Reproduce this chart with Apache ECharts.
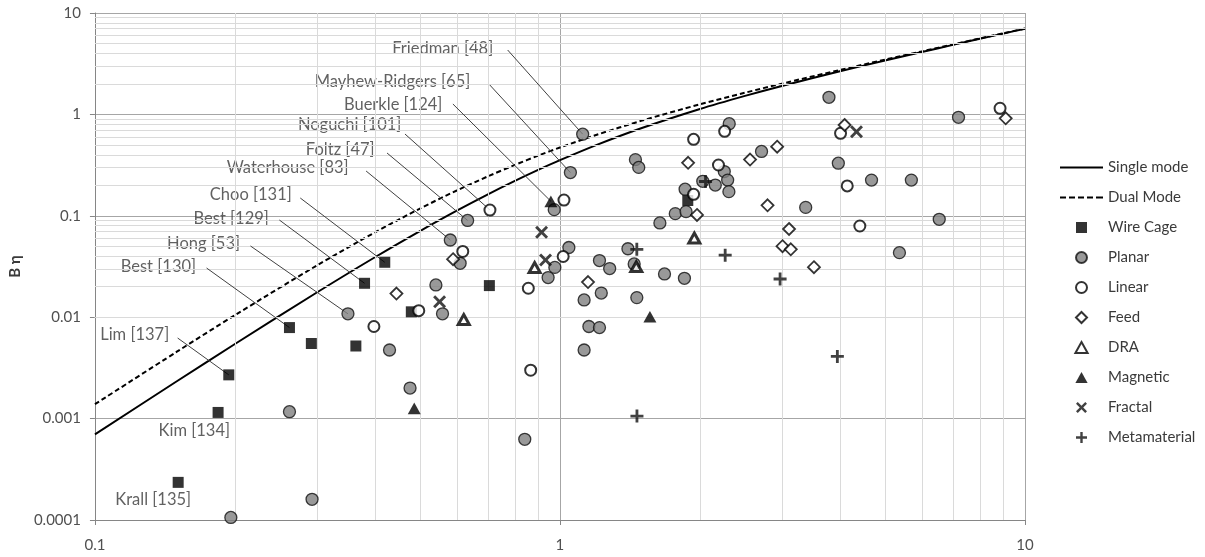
<!DOCTYPE html>
<html><head><meta charset="utf-8">
<script src="https://cdn.jsdelivr.net/npm/echarts@6/dist/echarts.min.js"></script>
<style>html,body{margin:0;padding:0;background:#fff}#c{width:1205px;height:557px}</style>
</head><body><div id="c"></div>
<script>
// ---------- data ----------
const xTickLabels = ['0.1', '1', '10'];
const yTickLabels = ['0.0001', '0.001', '0.01', '0.1', '1', '10'];
const xMinorTicks = [0.2,0.3,0.4,0.5,0.6,0.7,0.8,0.9, 2,3,4,5,6,7,8,9];
const yMinorTicks = [0.0002,0.0003,0.0004,0.0005,0.0006,0.0007,0.0008,0.0009,
  0.002,0.003,0.004,0.005,0.006,0.007,0.008,0.009,
  0.02,0.03,0.04,0.05,0.06,0.07,0.08,0.09,
  0.2,0.3,0.4,0.5,0.6,0.7,0.8,0.9,
  2,3,4,5,6,7,8,9];

const curveX     = [0.1, 0.15, 0.2, 0.3, 0.4, 0.5, 0.6, 0.7, 0.8, 0.9, 1, 1.2, 1.5, 2, 2.5, 3, 4, 5, 6, 7, 8, 9, 10];
const singleMode = [0.00070, 0.002334, 0.005439, 0.017516, 0.039013, 0.07071, 0.11230, 0.16278, 0.22075, 0.28479, 0.35355, 0.50077, 0.73430, 1.13137, 1.52392, 1.90918, 2.66206, 3.39950, 4.12792, 4.85072, 5.56972, 6.28634, 7.00099];
const dualMode   = [0.0013865, 0.0045674, 0.010476, 0.032359, 0.068568, 0.11785, 0.17760, 0.24499, 0.31758, 0.39350, 0.47140, 0.62983, 0.86781, 1.25708, 1.63681, 2.00966, 2.74273, 3.46617, 4.18447, 4.89970, 5.61290, 6.32491, 7.03582];

const wireCage = [[0.194,0.0027],[0.184,0.00115],[0.151,0.000235],[0.262,0.0079],[0.292,0.0055],[0.364,0.0052],[0.380,0.0216],[0.420,0.0348],[0.705,0.0205],[0.479,0.0113],[1.883,0.1416]];
const planar = [[0.196,0.000106],[0.293,0.00016],[0.262,0.00117],[0.350,0.0108],[0.430,0.00475],[0.476,0.0020],[0.541,0.0208],[0.559,0.0108],[0.581,0.0577],[0.610,0.034],[0.633,0.090],[0.840,0.000625],[0.943,0.0246],[0.975,0.031],[0.972,0.115],[1.045,0.0487],[1.053,0.267],[1.119,0.638],[1.127,0.0148],[1.127,0.00475],[1.154,0.0081],[1.216,0.0079],[1.227,0.0173],[1.216,0.0362],[1.279,0.0302],[1.400,0.0473],[1.444,0.0335],[1.463,0.0156],[1.453,0.358],[1.477,0.300],[1.640,0.085],[1.678,0.0267],[1.852,0.0242],[1.770,0.105],[1.867,0.110],[1.858,0.183],[2.028,0.219],[2.158,0.201],[2.256,0.273],[2.294,0.225],[2.308,0.173],[2.312,0.810],[2.713,0.431],[3.376,0.121],[3.788,1.474],[3.968,0.330],[4.677,0.225],[5.697,0.225],[5.370,0.0433],[6.540,0.0924],[7.195,0.936]];
const linear = [[0.398,0.0081],[0.497,0.0116],[0.618,0.0445],[0.707,0.114],[0.855,0.0193],[0.865,0.0030],[1.020,0.143],[1.016,0.0397],[1.938,0.568],[1.938,0.163],[2.192,0.317],[2.260,0.681],[4.012,0.651],[4.147,0.197],[4.414,0.0793],[8.838,1.149]];
const feed = [[0.445,0.0171],[0.589,0.0373],[1.149,0.0222],[1.886,0.333],[1.971,0.102],[2.563,0.359],[2.931,0.480],[2.795,0.127],[3.109,0.0741],[3.010,0.0502],[3.136,0.0467],[3.517,0.0311],[4.093,0.786],[9.089,0.915]];
const dra = [[0.621,0.0095],[0.882,0.0309],[1.459,0.0315],[1.945,0.0604]];
const magnetic = [[0.486,0.00126],[0.956,0.139],[1.561,0.0101]];
const fractal = [[0.551,0.0142],[0.913,0.0689],[0.931,0.0367],[4.342,0.675]];
const metamaterial = [[1.463,0.0467],[1.464,0.00106],[2.056,0.218],[2.266,0.0409],[2.974,0.0238],[3.949,0.0041]];

const annotationNames = ['Friedman [48]','Mayhew-Ridgers [65]','Buerkle [124]','Noguchi [101]','Foltz [47]','Waterhouse [83]','Choo [131]','Best [129]','Hong [53]','Best [130]','Lim [137]','Kim [134]','Krall [135]'];
const annotationTargets = [[1.119,0.638],[1.053,0.267],[0.956,0.139],[0.707,0.114],[0.633,0.090],[0.581,0.0577],[0.420,0.0348],[0.380,0.0216],[0.350,0.0108],[0.262,0.0079],[0.194,0.0027],null,null];

// ---------- layout (annotation text anchors / leader starts, in data units) ----------
const labelAnchors = [[0.7202,4.416],[0.643,2.086],[0.560,1.238],[0.4572,0.786],[0.4003,0.4455],[0.352,0.2961],[0.2657,0.1604],[0.2372,0.0930],[0.2056,0.0527],[0.1654,0.03127],[0.1448,0.006676],[0.1957,0.000754],[0.1614,0.0001575]];
const leaderStarts = [[0.7718,4.317],[0.7065,1.950],[0.5885,1.266],[0.4642,0.6406],[0.4247,0.4163],[0.3829,0.2765],[0.2764,0.1498],[0.2492,0.0909],[0.2160,0.0504],[0.1738,0.03056],[0.1506,0.006235],null,null];

const FONT = 'Lato, "Liberation Sans", sans-serif';
const TXT = '#3a3a3a';
const PLUS = 'path://M4.7,0H7.3V4.7H12V7.3H7.3V12H4.7V7.3H0V4.7H4.7Z';
const CROSS = 'path://M0,1.9L1.9,0L6,4.1L10.1,0L12,1.9L7.9,6L12,10.1L10.1,12L6,7.9L1.9,12L0,10.1L4.1,6Z';
const SQUARE = 'path://M0,0H10V10H0Z';
const DIAMOND = 'path://M5,0L10,5L5,10L0,5Z';
const TRIANGLE = 'path://M5,0L10,9H0Z';
const SOLID_ICON = 'path://M0,0H43V2.2H0Z';
const DASH_ICON = 'path://M0,0H6V2.2H0Z M9,0H15V2.2H9Z M18,0H24V2.2H18Z M27,0H33V2.2H27Z M36,0H43V2.2H36Z';

const chart = echarts.init(document.getElementById('c'), null, {renderer: 'canvas'});

const leaderData = [];
annotationNames.forEach((n, i) => {
  if (leaderStarts[i] && annotationTargets[i]) {
    leaderData.push([{coord: leaderStarts[i]}, {coord: annotationTargets[i]}]);
  }
});

function scatter(name, data, symbol, size, itemStyle, z) {
  return {type: 'scatter', name, data, symbol, symbolSize: size, symbolKeepAspect: true, itemStyle, z: z || 5, animation: false};
}

chart.setOption({
  animation: false,
  textStyle: {fontFamily: FONT},
  grid: {left: 92, right: 180, top: 13, bottom: 37, containLabel: false},
  xAxis: {
    type: 'log', logBase: 10, min: 0.1, max: 10,
    axisLine: {show: true, onZero: false, lineStyle: {color: '#868686', width: 1}},
    axisTick: {show: true, length: 5, lineStyle: {color: '#868686'}},
    axisLabel: {color: '#505050', fontSize: 15, margin: 18, fontFamily: FONT,
      formatter: v => xTickLabels[Math.round(Math.log10(v)) + 1]},
    splitLine: {show: true, lineStyle: {color: '#a6a6a6', width: 1}}
  },
  yAxis: {
    type: 'log', logBase: 10, min: 0.0001, max: 10,
    name: 'B η', nameLocation: 'middle', nameGap: 68,
    nameTextStyle: {color: TXT, fontSize: 15, fontWeight: 'bold', fontFamily: FONT},
    axisLine: {show: true, onZero: false, lineStyle: {color: '#868686', width: 1}},
    axisTick: {show: true, length: 5, lineStyle: {color: '#868686'}},
    axisLabel: {color: '#505050', fontSize: 15, margin: 14, fontFamily: FONT,
      formatter: v => yTickLabels[Math.round(Math.log10(v)) + 4]},
    splitLine: {show: true, lineStyle: {color: '#a6a6a6', width: 1}}
  },
  legend: {
    orient: 'vertical', left: 1055, top: 155, itemWidth: 43, itemHeight: 11, itemGap: 15,
    symbolKeepAspect: true,
    textStyle: {color: TXT, fontSize: 15, fontFamily: FONT},
    data: [
      {name: 'Single mode', icon: SOLID_ICON},
      {name: 'Dual Mode', icon: DASH_ICON},
      'Wire Cage','Planar','Linear','Feed','DRA','Magnetic','Fractal','Metamaterial'
    ]
  },
  series: [
    {
      type: 'line', name: '_minorgrid', data: [], silent: true, z: 0, animation: false,
      markLine: {
        silent: true, symbol: ['none','none'], label: {show: false}, animation: false,
        lineStyle: {color: '#dadada', width: 1, type: 'solid'},
        emphasis: {disabled: true},
        data: [...xMinorTicks.map(v => ({xAxis: v})), ...yMinorTicks.map(v => ({yAxis: v}))]
      }
    },
    {
      type: 'scatter', name: '_annot', z: 2, silent: true, animation: false,
      symbol: 'circle', symbolSize: 1, itemStyle: {color: 'rgba(0,0,0,0)'},
      data: annotationNames.map((n, i) => ({name: n, value: labelAnchors[i]})),
      label: {show: true, position: 'left', distance: 0, formatter: '{b}', color: TXT, fontSize: 16.5, fontFamily: FONT},
      markLine: {
        silent: true, symbol: ['none','none'], label: {show: false}, animation: false,
        lineStyle: {color: '#404040', width: 1, type: 'solid'},
        emphasis: {disabled: true},
        data: leaderData
      }
    },
    {
      type: 'line', name: 'Single mode', data: curveX.map((x, i) => [x, singleMode[i]]),
      symbol: 'none', showSymbol: false, smooth: 0.3, z: 3,
      lineStyle: {color: '#000', width: 2}, itemStyle: {color: '#000'}
    },
    {
      type: 'line', name: 'Dual Mode', data: curveX.map((x, i) => [x, dualMode[i]]),
      symbol: 'none', showSymbol: false, smooth: 0.3, z: 3,
      lineStyle: {color: '#000', width: 2, type: [5, 3]}, itemStyle: {color: '#000'}
    },
    scatter('Wire Cage', wireCage, SQUARE, 11, {color: '#000'}),
    scatter('Planar', planar, 'circle', 12, {color: '#7f7f7f', borderColor: '#111', borderWidth: 1.3}),
    scatter('Linear', linear, 'circle', 11, {color: '#fff', borderColor: '#000', borderWidth: 2}),
    scatter('Feed', feed, DIAMOND, 12, {color: '#fff', borderColor: '#000', borderWidth: 1.8}),
    scatter('DRA', dra, TRIANGLE, 11, {color: '#fff', borderColor: '#000', borderWidth: 3}),
    scatter('Magnetic', magnetic, TRIANGLE, 13, {color: '#000'}),
    scatter('Fractal', fractal, CROSS, 13, {color: '#111'}),
    scatter('Metamaterial', metamaterial, PLUS, 13, {color: '#111'})
  ]
});
</script></body></html>
